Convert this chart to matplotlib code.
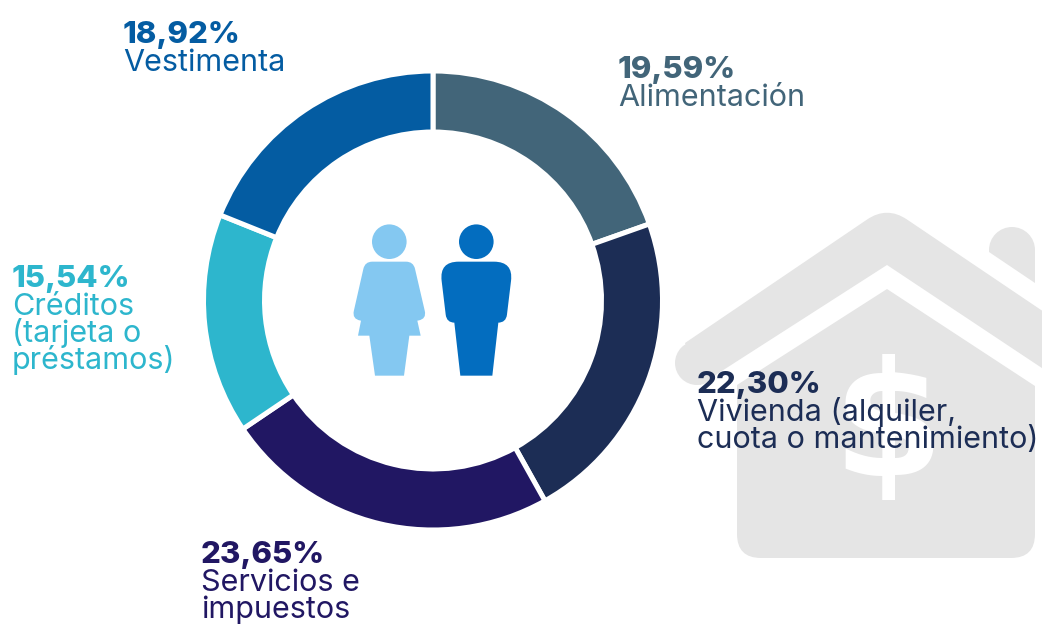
#!/usr/bin/env python3

import numpy as np
import matplotlib
matplotlib.use("Agg")
import matplotlib.pyplot as plt
from matplotlib.patches import Circle, PathPatch, Wedge
from matplotlib.path import Path

# clockwise from the top
categories = ["Alimentación", "Vivienda (alquiler,\ncuota o mantenimiento)", "Servicios e\nimpuestos",
              "Créditos\n(tarjeta o\npréstamos)", "Vestimenta"]
values = [19.59, 22.30, 23.65, 15.54, 18.92]
pct_labels = ["19,59%", "22,30%", "23,65%", "15,54%", "18,92%"]
colors = ["#426579", "#1c2d55", "#211763", "#2db6cd", "#045ca2"]

# pixel spots for the label blocks (left x, baseline of the percent line)
label_x = [618, 697, 201, 12, 123]
label_y = [78, 393, 563, 287, 43]

GREY = "#e5e5e5"
W = 1042
H = 624

plt.rcParams["font.family"] = ["Inter", "DejaVu Sans"]


def rounded(points):
    # points are (x, y, corner radius), closed polygon with quadratic corners
    verts = []
    codes = []
    n = len(points)
    for i in range(n):
        p = np.array(points[i][:2], dtype=float)
        r = points[i][2]
        prev = np.array(points[i - 1][:2], dtype=float)
        nxt = np.array(points[(i + 1) % n][:2], dtype=float)
        if r > 0:
            a = p + (prev - p) / np.linalg.norm(prev - p) * r
            b = p + (nxt - p) / np.linalg.norm(nxt - p) * r
            verts += [a, p, b]
            codes += [Path.LINETO, Path.CURVE3, Path.CURVE3]
        else:
            verts.append(p)
            codes.append(Path.LINETO)
    codes[0] = Path.MOVETO
    verts.append(verts[0])
    codes.append(Path.CLOSEPOLY)
    return Path(verts, codes)


def zoomed(points):
    return [(330 + x / 3, 210 + y / 3, r / 3) for x, y, r in points]


fig = plt.figure(figsize=(W / 100, H / 100), dpi=100)
bg = fig.add_axes([0, 0, 1, 1])
bg.set_xlim(0, W)
bg.set_ylim(H, 0)
bg.axis("off")

# house
roof = [(887, 206, 24), (1090, 343, 0), (1090, 400, 0), (887, 265, 0), (700, 385, 0), (685, 343, 0)]
body = [(887, 289, 0), (1035, 386, 0), (1035, 558, 24), (737, 558, 24), (737, 385, 0)]
chimney = [(989, 250, 0), (1035, 250, 0), (1035, 283, 0), (989, 252, 0)]
for pts in (roof, body, chimney):
    bg.add_patch(PathPatch(rounded(pts), fc=GREY, ec="none", zorder=1))
bg.add_patch(Circle((697, 363), 22, fc=GREY, ec="none", zorder=1))
bg.add_patch(Wedge((1012, 250), 23, 180, 360, fc=GREY, ec="none", zorder=1))
bg.text(888, 431, "$", color="white", fontsize=115, fontweight="bold", family="DejaVu Sans",
        ha="center", va="center", zorder=2)

# people
woman = [(105, 155, 22), (250, 155, 22), (290, 327, 25), (262, 332, 0), (272, 377, 0), (238, 377, 0),
         (222, 497, 0), (135, 497, 0), (118, 377, 0), (84, 377, 0), (93, 332, 0), (66, 327, 25)]
man = [(328, 155, 58), (550, 155, 58), (528, 338, 24), (505, 338, 0), (487, 497, 0), (391, 497, 0),
       (373, 338, 0), (350, 338, 24)]
bg.add_patch(PathPatch(rounded(zoomed(woman)), fc="#84c8f1", ec="none", zorder=3))
bg.add_patch(PathPatch(rounded(zoomed(man)), fc="#036dbf", ec="none", zorder=3))
bg.add_patch(Circle((389.3, 241.7), 17.3, fc="#84c8f1", ec="none", zorder=3))
bg.add_patch(Circle((476.3, 241.7), 17.3, fc="#036dbf", ec="none", zorder=3))

# labels
for cat, pct, col, x, y in zip(categories, pct_labels, colors, label_x, label_y):
    bg.text(x, y, pct, color=col, fontsize=22.4, fontweight="heavy", ha="left", va="baseline", zorder=4)
    for i, line in enumerate(cat.split("\n")):
        bg.text(x, y + 1 + 27 * (i + 1), line, color=col, fontsize=22, ha="left", va="baseline", zorder=4)

# donut, axes is 480 px square so data units are pixels
ax = fig.add_axes([(433 - 240) / W, (H - 300.5 - 240) / H, 480 / W, 480 / H])
ax.pie(values, colors=colors, startangle=90, counterclock=False, radius=229.5,
       wedgeprops=dict(width=61, edgecolor="white", linewidth=3.6))
ax.set_xlim(-240, 240)
ax.set_ylim(-240, 240)
ax.patch.set_alpha(0)

fig.savefig("out.png", dpi=100)
